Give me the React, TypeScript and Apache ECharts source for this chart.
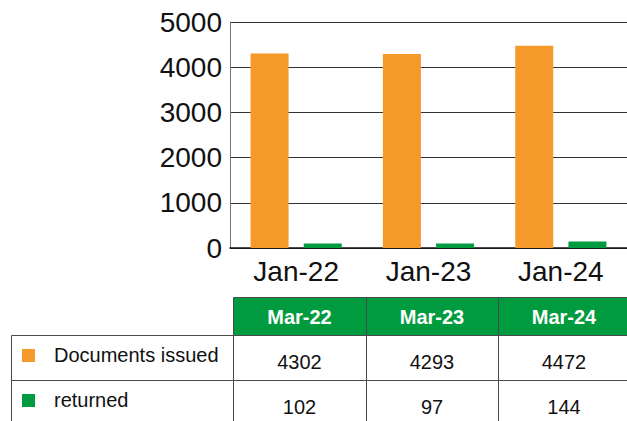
import React, { useEffect, useRef } from "react";
import * as echarts from "echarts";

const categories = ["Jan-22", "Jan-23", "Jan-24"];
const tableHeaders = ["Mar-22", "Mar-23", "Mar-24"];
const seriesNames = ["Documents issued", "returned"];
const documentsIssued = [4302, 4293, 4472];
const returned = [102, 97, 144];
const yTicks = { min: 0, max: 5000, interval: 1000 };

const ORANGE = "#F5992B";
const GREEN = "#009B3E";
const FONT = 'Arial, "Liberation Sans", sans-serif';

export default function App() {
  const ref = useRef<HTMLDivElement>(null);
  useEffect(() => {
    if (!ref.current) return;
    const chart = echarts.init(ref.current, null, { renderer: "svg" });

    const colX = [233, 366, 498, 630];
    const headerTop = 297;
    const headerBottom = 335;
    const rowH = 45;
    const labelLeft = 11;
    const border = "#4a4a4a";
    const rowsData = [documentsIssued, returned];
    const colors = [ORANGE, GREEN];

    const graphics: any[] = [];
    tableHeaders.forEach((h, i) => {
      graphics.push({
        type: "rect",
        shape: { x: colX[i] + 0.5, y: headerTop + 0.5, width: colX[i + 1] - colX[i], height: headerBottom - headerTop },
        style: { fill: GREEN, stroke: border, lineWidth: 1 },
      });
      graphics.push({
        type: "text",
        x: (colX[i] + colX[i + 1]) / 2,
        y: (headerTop + headerBottom) / 2 + 1,
        style: {
          text: h,
          fill: "#fff",
          font: `bold 20px ${FONT}`,
          align: "center",
          verticalAlign: "middle",
        },
      });
    });
    rowsData.forEach((vals, r) => {
      const top = headerBottom + r * rowH;
      graphics.push({
        type: "rect",
        shape: { x: labelLeft + 0.5, y: top + 0.5, width: colX[0] - labelLeft, height: rowH },
        style: { fill: "#fff", stroke: border, lineWidth: 1 },
      });
      graphics.push({
        type: "rect",
        shape: { x: 22, y: top + 14, width: 13, height: 13 },
        style: { fill: colors[r] },
      });
      graphics.push({
        type: "text",
        x: 54,
        y: top + 20,
        style: {
          text: seriesNames[r],
          fill: "#111",
          font: `20px ${FONT}`,
          align: "left",
          verticalAlign: "middle",
        },
      });
      vals.forEach((v, i) => {
        graphics.push({
          type: "rect",
          shape: { x: colX[i] + 0.5, y: top + 0.5, width: colX[i + 1] - colX[i], height: rowH },
          style: { fill: "#fff", stroke: border, lineWidth: 1 },
        });
        graphics.push({
          type: "text",
          x: (colX[i] + colX[i + 1]) / 2,
          y: top + 27,
          style: {
            text: String(v),
            fill: "#111",
            font: `20px ${FONT}`,
            align: "center",
            verticalAlign: "middle",
          },
        });
      });
    });

    chart.setOption({
      animation: false,
      backgroundColor: "#fff",
      grid: { left: 230, right: 0, top: 22, bottom: 173, containLabel: false },
      xAxis: {
        type: "category",
        data: categories,
        axisLine: { show: true, lineStyle: { color: "#111", width: 1.5 } },
        axisTick: { show: false },
        axisLabel: { color: "#111", fontSize: 28, fontFamily: FONT, margin: 9 },
      },
      yAxis: {
        type: "value",
        min: yTicks.min,
        max: yTicks.max,
        interval: yTicks.interval,
        axisLine: { show: true, lineStyle: { color: "#777", width: 1 } },
        axisTick: { show: false },
        axisLabel: {
          color: "#111",
          fontSize: 28,
          fontFamily: FONT,
          margin: 8,
          formatter: (v: number) => String(v),
        },
        splitLine: { show: true, lineStyle: { color: "#333", width: 1 } },
      },
      series: [
        {
          name: seriesNames[0],
          type: "bar",
          data: documentsIssued,
          barWidth: 38,
          barGap: "40%",
          itemStyle: { color: ORANGE },
        },
        {
          name: seriesNames[1],
          type: "bar",
          data: returned,
          barWidth: 38,
          barGap: "40%",
          itemStyle: { color: GREEN },
        },
      ],
      graphic: graphics,
    });
    return () => chart.dispose();
  }, []);
  return (
    <div
      ref={ref}
      style={{ position: "absolute", left: 0, top: 0, width: 627, height: 421 }}
    />
  );
}
